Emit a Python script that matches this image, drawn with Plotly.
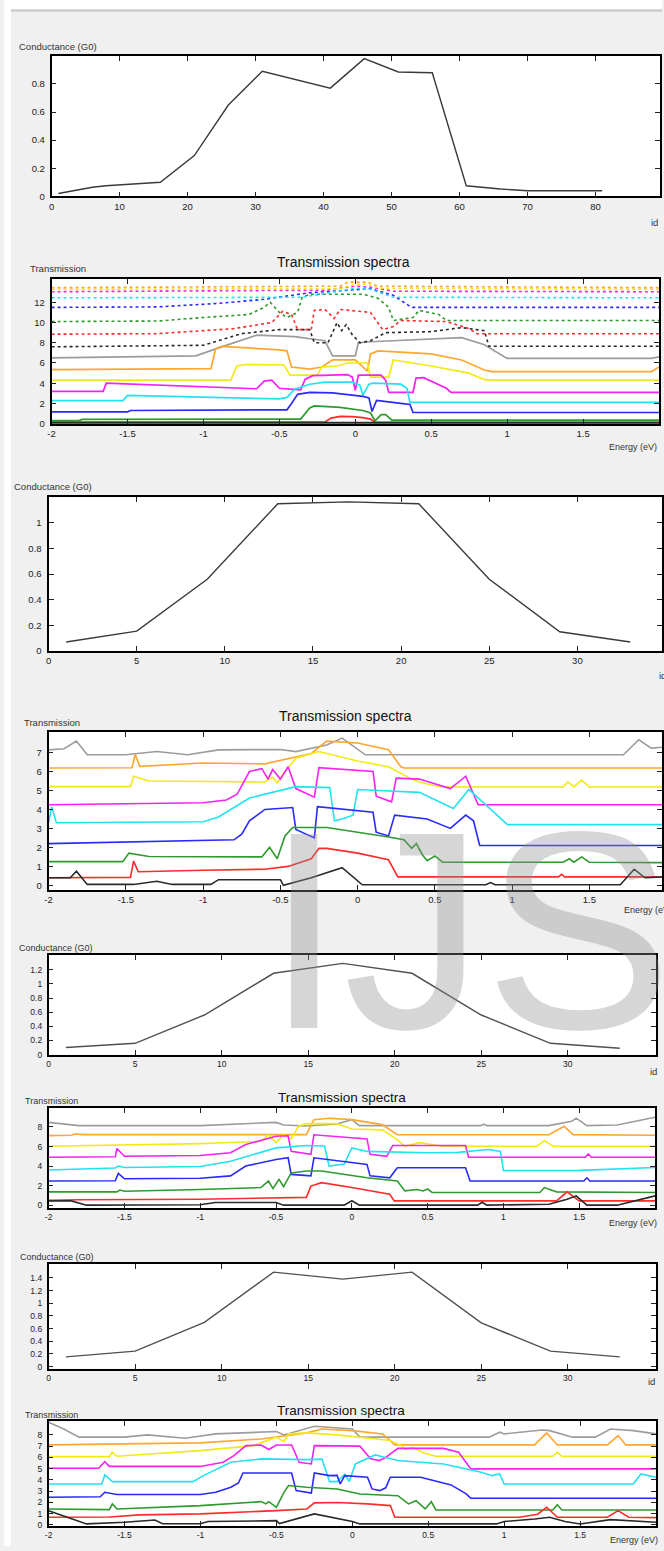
import plotly.graph_objects as go

W, H = 664, 1551
FONT = "Liberation Sans Narrow, Arial Narrow, Liberation Sans, Arial, sans-serif"

# ---------------- data ----------------
# Panel 1: conductance vs id
cond1_id = [1, 6, 8, 16, 21, 26, 31, 41, 46, 51, 56, 61, 66, 70, 81]
cond1_g = [0.02, 0.065, 0.075, 0.1, 0.29, 0.65, 0.89, 0.77, 0.98, 0.885, 0.88, 0.075, 0.052, 0.04, 0.04]

# Panel 3
cond2_id = [1, 5, 9, 13, 17, 21, 25, 29, 33]
cond2_g = [0.07, 0.155, 0.56, 1.15, 1.165, 1.15, 0.56, 0.15, 0.07]

# Panel 5
cond3_id = [1, 5, 9, 13, 17, 21, 25, 29, 33]
cond3_g = [0.1, 0.16, 0.56, 1.15, 1.29, 1.15, 0.56, 0.16, 0.09]

# Panel 7
cond4_id = [1, 5, 9, 13, 17, 21, 25, 29, 33]
cond4_g = [0.155, 0.245, 0.7, 1.49, 1.38, 1.49, 0.69, 0.245, 0.155]

# Tick labels
id_ticks_80 = [0, 10, 20, 30, 40, 50, 60, 70, 80]
id_ticks_30 = [0, 5, 10, 15, 20, 25, 30]
e_ticks = [-2, -1.5, -1, -0.5, 0, 0.5, 1, 1.5]
e_tick_text = ["-2", "-1.5", "-1", "-0.5", "0", "0.5", "1", "1.5"]

# Panel 2: transmission spectra (energy, transmission)
s1_black = [(-2, 0.05), (2, 0.05)]
s1_red = [(-2, 0.15), (-0.2, 0.15), (-0.16, 0.55), (-0.1, 0.72), (-0.02, 0.7), (0.05, 0.6), (0.1, 0.45),
          (0.13, 0.12), (2, 0.12)]
s1_green = [(-2, 0.3), (-1.82, 0.3), (-1.8, 0.42), (-0.4, 0.38), (-0.36, 0.45), (-0.3, 1.55), (-0.27, 1.75),
            (-0.1, 1.6), (0.05, 1.3), (0.1, 1.05), (0.13, 0.28), (0.17, 0.9), (0.2, 0.9), (0.24, 0.35), (2, 0.35)]
s1_blue = [(-2, 1.17), (-1.5, 1.17), (-1.48, 1.3), (-0.45, 1.37), (-0.42, 2.0), (-0.38, 2.9), (-0.3, 3.1),
           (-0.15, 3.05), (0.05, 2.7), (0.09, 2.55), (0.11, 1.2), (0.14, 2.3), (0.3, 2.0), (0.36, 1.9),
           (0.38, 1.1), (2, 1.1)]
s1_cyan = [(-2, 2.28), (-1.53, 2.28), (-1.5, 2.8), (-0.5, 2.45), (-0.45, 2.6), (-0.4, 3.4), (-0.3, 3.9),
           (-0.2, 4.1), (-0.02, 4.1), (0.03, 3.8), (0.05, 2.8), (0.09, 3.9), (0.12, 4.0), (0.3, 3.9),
           (0.34, 3.5), (0.36, 2.1), (2, 2.1)]
s1_magenta = [(-2, 3.2), (-1.66, 3.2), (-1.64, 4.0), (-0.72, 3.45), (-0.65, 3.45), (-0.6, 4.2), (-0.55, 4.3),
              (-0.5, 3.5), (-0.36, 3.35), (-0.33, 4.4), (-0.28, 4.75), (-0.05, 4.85), (-0.02, 4.6), (0.0, 3.3),
              (0.02, 4.8), (0.17, 4.8), (0.2, 4.3), (0.22, 3.1), (0.38, 3.1), (0.4, 4.5), (0.45, 4.55),
              (0.6, 3.5), (0.63, 3.1), (2, 3.1)]
s1_yellow = [(-2, 4.3), (-0.82, 4.3), (-0.78, 5.7), (-0.72, 5.85), (-0.47, 5.8), (-0.43, 4.8), (-0.25, 4.8),
             (-0.22, 5.6), (-0.12, 5.7), (-0.05, 6.0), (0.08, 6.0), (0.1, 4.6), (0.22, 4.6), (0.25, 6.3),
             (0.5, 5.7), (0.75, 5.0), (0.85, 4.35), (0.9, 4.3), (2, 4.3)]
s1_orange = [(-2, 5.35), (-0.95, 5.45), (-0.92, 7.4), (-0.88, 7.65), (-0.5, 7.3), (-0.45, 7.2), (-0.42, 5.6),
             (-0.3, 5.4), (-0.22, 5.6), (-0.15, 6.3), (0.0, 6.3), (0.08, 5.2), (0.1, 6.9), (0.15, 7.2),
             (0.5, 6.9), (0.7, 6.3), (0.85, 5.3), (0.9, 5.15), (1.95, 5.15), (2.0, 5.6)]
s1_gray = [(-2, 6.5), (-1.05, 6.7), (-0.9, 7.5), (-0.65, 8.75), (-0.4, 8.6), (-0.2, 8.2), (-0.15, 6.7),
           (0.0, 6.7), (0.02, 8.0), (0.1, 8.1), (0.7, 8.5), (0.85, 7.8), (1.0, 6.45), (1.95, 6.45), (2, 6.6)]
s1_black_dot = [(-2, 7.6), (-1.0, 7.75), (-0.75, 8.9), (-0.5, 9.3), (-0.3, 9.3), (-0.27, 8.0), (-0.18, 8.0),
                (-0.12, 10.0), (-0.09, 9.2), (-0.06, 9.8), (-0.02, 8.8), (0.03, 8.0), (0.1, 8.2), (0.2, 9.0),
                (0.5, 9.1), (0.7, 9.5), (0.85, 9.2), (0.88, 7.65), (2, 7.65)]
s1_red_dot = [(-2, 8.85), (-1.3, 8.9), (-0.8, 9.4), (-0.55, 10.0), (-0.48, 11.1), (-0.42, 10.8), (-0.38, 9.3),
              (-0.29, 9.3), (-0.27, 11.2), (-0.2, 11.3), (-0.14, 10.4), (-0.1, 11.3), (0.1, 11.0), (0.18, 9.3),
              (0.25, 9.6), (0.3, 10.2), (0.6, 10.1), (0.75, 9.4), (0.8, 8.9), (2, 8.9)]
s1_green_dot = [(-2, 10.1), (-1.3, 10.15), (-1.0, 10.5), (-0.7, 10.8), (-0.6, 11.5), (-0.56, 12.0), (-0.5, 11.0),
                (-0.45, 10.5), (-0.38, 11.0), (-0.35, 12.5), (-0.3, 12.8), (0.05, 12.8), (0.15, 12.4),
                (0.22, 11.5), (0.25, 10.2), (0.38, 10.5), (0.42, 11.2), (0.55, 10.8), (0.6, 10.2), (2, 10.2)]
s1_blue_dot = [(-2, 11.5), (-1.3, 11.55), (-0.9, 11.9), (-0.6, 12.3), (-0.3, 12.95), (0.0, 13.25), (0.1, 13.35),
               (0.25, 12.7), (0.36, 11.6), (0.38, 11.5), (2, 11.5)]
s1_cyan_dot = [(-2, 12.45), (-0.35, 12.5), (-0.15, 13.0), (0.0, 13.4), (0.1, 13.3), (0.25, 12.5), (2, 12.45)]
s1_magenta_dot = [(-2, 13.05), (-1.0, 13.1), (-0.2, 13.2), (0.0, 13.6), (0.1, 13.5), (0.25, 13.1), (2, 13.05)]
s1_yellow_dot = [(-2, 13.3), (-0.1, 13.35), (0.0, 13.8), (0.08, 13.8), (0.15, 13.4), (2, 13.3)]
s1_orange_dot = [(-2, 13.45), (-1.0, 13.5), (-0.1, 13.6), (-0.05, 14.0), (0.08, 14.0), (0.15, 13.6), (2, 13.45)]

# Panel 4
s2_black = [(-2, 0.4), (-1.86, 0.4), (-1.82, 0.75), (-1.75, 0.05), (-1.45, 0.05), (-1.3, 0.22), (-1.2, 0.05),
            (-0.95, 0.05), (-0.9, 0.3), (-0.5, 0.3), (-0.48, 0.0), (-0.3, 0.4), (-0.1, 0.93), (0.0, 0.25),
            (0.03, 0.03), (0.83, 0.03), (0.86, 0.15), (0.89, 0.03), (1.7, 0.03), (1.79, 0.85), (1.86, 0.4),
            (2, 0.45)]
s2_red = [(-2, 0.4), (-1.47, 0.42), (-1.45, 1.28), (-1.42, 0.72), (-1.0, 0.8), (-0.6, 0.85), (-0.45, 1.0),
          (-0.3, 1.4), (-0.25, 1.95), (-0.2, 1.95), (0.0, 1.7), (0.2, 1.35), (0.26, 0.45), (1.3, 0.45),
          (1.32, 0.58), (1.34, 0.45), (2, 0.45)]
s2_green = [(-2, 1.25), (-1.52, 1.25), (-1.48, 1.7), (-1.35, 1.52), (-0.62, 1.5), (-0.57, 2.0), (-0.52, 1.4),
            (-0.47, 2.6), (-0.42, 3.05), (-0.2, 3.05), (0.2, 2.55), (0.3, 2.4), (0.35, 1.95), (0.38, 2.2),
            (0.42, 1.6), (0.45, 1.3), (0.5, 1.55), (0.55, 1.22), (1.33, 1.22), (1.37, 1.4), (1.4, 1.22),
            (1.45, 1.5), (1.5, 1.22), (2, 1.2)]
s2_blue = [(-2, 2.2), (-1.3, 2.3), (-0.8, 2.4), (-0.75, 2.7), (-0.7, 3.4), (-0.6, 4.0), (-0.42, 4.1),
           (-0.4, 2.95), (-0.28, 2.5), (-0.26, 4.15), (0.1, 3.85), (0.12, 2.8), (0.2, 2.6), (0.24, 3.7),
           (0.45, 3.5), (0.6, 3.0), (0.7, 3.7), (0.75, 3.4), (0.79, 2.1), (2, 2.1)]
s2_cyan = [(-2, 3.3), (-1.98, 4.15), (-1.95, 3.3), (-1.0, 3.35), (-0.9, 3.6), (-0.7, 4.6), (-0.4, 5.2),
           (-0.18, 5.15), (-0.15, 3.4), (-0.1, 3.5), (-0.03, 3.7), (0.0, 5.05), (0.4, 4.9), (0.62, 4.05),
           (0.72, 5.05), (0.97, 3.2), (2, 3.2)]
s2_magenta = [(-2, 4.25), (-1.0, 4.35), (-0.85, 4.5), (-0.78, 4.8), (-0.7, 6.0), (-0.62, 6.15), (-0.58, 5.6),
              (-0.55, 6.1), (-0.5, 5.6), (-0.45, 6.25), (-0.4, 5.1), (-0.28, 4.65), (-0.25, 6.2), (0.1, 6.0),
              (0.12, 4.7), (0.22, 4.4), (0.25, 5.65), (0.4, 5.6), (0.6, 5.1), (0.7, 5.75), (0.78, 4.25),
              (2, 4.25)]
s2_yellow = [(-2, 5.2), (-1.47, 5.2), (-1.45, 5.75), (-1.35, 5.5), (-0.6, 5.45), (-0.55, 5.7), (-0.52, 5.4),
             (-0.48, 5.9), (-0.4, 6.7), (-0.25, 7.05), (0.0, 6.55), (0.2, 6.25), (0.35, 5.6), (0.4, 5.45),
             (0.47, 5.3), (0.55, 5.18), (1.33, 5.18), (1.36, 5.45), (1.4, 5.2), (1.45, 5.55), (1.5, 5.18),
             (2, 5.18)]
s2_orange = [(-2, 6.18), (-1.46, 6.2), (-1.44, 6.9), (-1.41, 6.27), (-1.0, 6.45), (-0.6, 6.4), (-0.3, 6.95),
             (-0.2, 7.6), (0.0, 7.5), (0.2, 7.15), (0.28, 6.25), (0.3, 6.18), (2, 6.18)]
s2_gray = [(-2, 7.14), (-1.9, 7.2), (-1.82, 7.6), (-1.75, 6.88), (-1.5, 6.88), (-1.3, 7.05), (-1.1, 6.88),
           (-0.9, 7.14), (-0.5, 7.16), (-0.4, 7.05), (-0.2, 7.4), (-0.1, 7.76), (0.05, 6.88), (1.72, 6.88),
           (1.82, 7.67), (1.9, 7.23), (2, 7.3)]

# Panel 6
s3_black = [(-2, 0.44), (-1.85, 0.44), (-1.75, 0.0), (-1.0, 0.05), (-0.9, 0.27), (-0.5, 0.27), (-0.45, 0.0),
            (-0.05, 0.0), (0.0, 0.45), (0.05, 0.0), (0.83, 0.0), (0.86, 0.3), (0.89, 0.0), (1.3, 0.1),
            (1.42, 0.6), (1.48, 0.95), (1.55, 0.0), (1.75, 0.0), (2, 0.95)]
s3_red = [(-2, 0.5), (-1.8, 0.55), (-1.0, 0.6), (-0.3, 0.8), (-0.27, 1.95), (-0.2, 2.3), (0.0, 1.8),
          (0.25, 1.12), (0.28, 0.44), (1.35, 0.44), (1.42, 1.36), (1.5, 0.44), (2, 0.44)]
s3_green = [(-2, 1.36), (-1.55, 1.36), (-1.53, 1.55), (-1.5, 1.42), (-1.0, 1.6), (-0.6, 1.8), (-0.55, 2.47),
            (-0.52, 1.7), (-0.48, 2.64), (-0.45, 1.9), (-0.4, 3.3), (-0.3, 3.5), (-0.2, 3.5), (0.1, 2.8),
            (0.3, 2.47), (0.35, 1.46), (0.43, 1.6), (0.47, 1.45), (0.5, 1.65), (0.53, 1.3), (1.24, 1.3),
            (1.27, 1.8), (1.35, 1.36), (2, 1.3)]
s3_blue = [(-2, 2.47), (-1.56, 2.5), (-1.54, 3.25), (-1.5, 2.7), (-1.0, 2.75), (-0.8, 3.0), (-0.7, 4.0),
           (-0.5, 4.68), (-0.42, 4.85), (-0.4, 3.15), (-0.27, 3.0), (-0.25, 4.85), (0.1, 4.17), (0.12, 3.0),
           (0.25, 2.8), (0.3, 3.83), (0.75, 3.83), (0.78, 2.47), (1.53, 2.47), (1.55, 2.8), (1.57, 2.47),
           (2, 2.47)]
s3_cyan = [(-2, 3.6), (-1.56, 3.8), (-1.54, 4.0), (-1.5, 3.85), (-1.0, 3.95), (-0.8, 4.5), (-0.5, 5.86),
           (-0.3, 6.1), (-0.18, 6.05), (-0.15, 4.0), (-0.05, 4.2), (0.0, 5.86), (0.1, 5.5), (0.5, 5.36),
           (0.7, 5.4), (0.9, 5.7), (0.98, 5.5), (1.0, 3.55), (1.5, 3.56), (2, 3.85)]
s3_magenta = [(-2, 4.9), (-1.56, 4.95), (-1.55, 5.8), (-1.5, 5.0), (-1.0, 5.08), (-0.8, 5.36), (-0.7, 6.2),
              (-0.5, 7.05), (-0.42, 7.1), (-0.4, 5.5), (-0.27, 5.2), (-0.25, 7.2), (0.1, 6.78), (0.12, 5.2),
              (0.23, 5.0), (0.27, 6.1), (0.75, 6.1), (0.77, 4.9), (1.54, 4.9), (1.56, 5.25), (1.58, 4.9),
              (2, 4.9)]
s3_yellow = [(-2, 6.03), (-1.0, 6.3), (-0.6, 6.54), (-0.55, 7.2), (-0.5, 6.4), (-0.45, 7.2), (-0.4, 6.8),
             (-0.35, 8.1), (-0.3, 8.34), (-0.1, 8.34), (0.0, 7.8), (0.2, 7.7), (0.3, 6.7), (0.35, 6.03),
             (0.45, 6.4), (0.5, 6.3), (0.6, 6.03), (1.22, 6.03), (1.27, 6.6), (1.33, 6.03), (2, 6.03)]
s3_orange = [(-2, 7.12), (-1.85, 7.15), (-1.82, 7.3), (-1.78, 7.22), (-0.3, 7.22), (-0.25, 8.75), (-0.15, 8.9),
             (0.0, 8.75), (0.2, 8.24), (0.3, 7.22), (1.3, 7.2), (1.4, 8.07), (1.46, 7.22), (2, 7.15)]
s3_gray = [(-2, 8.47), (-1.8, 8.14), (-1.0, 8.14), (-0.6, 8.4), (-0.5, 8.47), (-0.45, 8.2), (-0.3, 8.1),
           (-0.1, 8.3), (0.0, 8.75), (0.05, 8.14), (0.85, 8.14), (0.87, 8.3), (0.89, 8.14), (1.3, 8.14),
           (1.45, 8.58), (1.48, 8.9), (1.55, 8.14), (1.75, 8.2), (2, 9.0)]

# Panel 8
s4_black = [(-2, 1.27), (-1.85, 0.53), (-1.75, 0.09), (-1.5, 0.24), (-1.3, 0.44), (-1.25, 0.1), (-1.0, 0.1),
            (-0.95, 0.3), (-0.5, 0.38), (-0.48, 0.12), (-0.3, 0.83), (-0.25, 0.98), (0.0, 0.3), (0.05, 0.09),
            (0.95, 0.09), (1.0, 0.3), (1.2, 0.53), (1.3, 0.68), (1.4, 0.3), (1.5, 0.09), (1.7, 0.47),
            (1.8, 0.38), (2, 0.24)]
s4_red = [(-2, 0.68), (-1.6, 0.7), (-1.4, 0.89), (-1.0, 0.98), (-0.5, 1.27), (-0.3, 1.42), (-0.25, 1.96),
          (-0.1, 2.0), (0.1, 1.87), (0.25, 1.72), (0.28, 0.68), (1.1, 0.68), (1.22, 0.95), (1.28, 1.57),
          (1.35, 0.68), (1.68, 0.68), (1.75, 1.27), (1.82, 0.68), (2, 0.65)]
s4_green = [(-2, 1.42), (-1.6, 1.36), (-1.58, 1.87), (-1.55, 1.42), (-1.0, 1.72), (-0.6, 2.07), (-0.57, 1.87),
            (-0.55, 2.07), (-0.5, 1.57), (-0.45, 2.9), (-0.42, 3.5), (-0.3, 3.35), (-0.1, 3.2), (0.05, 2.75),
            (0.3, 2.6), (0.37, 1.87), (0.42, 2.15), (0.48, 1.42), (0.52, 2.07), (0.55, 1.33), (1.32, 1.33),
            (1.35, 1.8), (1.38, 1.33), (2, 1.33)]
s4_blue = [(-2, 2.46), (-1.66, 2.5), (-1.63, 2.9), (-1.55, 2.7), (-1.0, 2.7), (-0.9, 2.9), (-0.8, 3.35),
           (-0.75, 3.73), (-0.72, 4.62), (-0.4, 4.62), (-0.37, 3.05), (-0.27, 2.84), (-0.25, 4.62),
           (-0.15, 4.38), (-0.1, 4.4), (-0.08, 3.64), (-0.05, 4.38), (0.1, 4.24), (0.13, 3.2), (0.18, 3.05),
           (0.22, 3.3), (0.25, 4.24), (0.45, 4.24), (0.65, 3.56), (0.75, 2.76), (0.78, 2.37), (2, 2.37)]
s4_cyan = [(-2, 3.64), (-1.65, 3.64), (-1.63, 4.44), (-1.58, 3.85), (-1.05, 3.85), (-0.98, 4.38), (-0.8, 5.57),
           (-0.6, 5.87), (-0.3, 5.8), (-0.2, 5.85), (-0.15, 3.85), (-0.1, 3.85), (-0.05, 4.5), (-0.02, 3.85),
           (0.02, 5.42), (0.15, 6.22), (0.22, 6.0), (0.3, 5.72), (0.6, 5.42), (0.85, 4.68), (0.92, 4.38),
           (0.97, 4.53), (1.0, 3.64), (1.85, 3.64), (1.9, 4.53), (2, 4.24)]
s4_magenta = [(-2, 5.04), (-1.67, 5.04), (-1.63, 5.63), (-1.6, 5.2), (-1.0, 5.2), (-0.85, 5.57), (-0.78, 6.16),
              (-0.7, 7.05), (-0.6, 7.1), (-0.55, 6.7), (-0.5, 7.1), (-0.4, 7.1), (-0.35, 5.57), (-0.27, 5.42),
              (-0.25, 7.05), (0.05, 7.0), (0.12, 5.87), (0.18, 5.72), (0.22, 6.0), (0.3, 6.8), (0.6, 6.8),
              (0.7, 6.46), (0.78, 4.98), (2, 4.98)]
s4_yellow = [(-2, 6.07), (-1.6, 6.07), (-1.58, 6.46), (-1.55, 6.1), (-1.0, 6.6), (-0.75, 6.9), (-0.65, 7.05),
             (-0.5, 7.8), (-0.45, 7.4), (-0.42, 8.09), (-0.3, 8.18), (-0.1, 8.0), (0.1, 7.7), (0.25, 7.5),
             (0.32, 7.05), (0.35, 6.7), (0.4, 6.9), (0.47, 6.4), (0.55, 6.1), (1.32, 6.1), (1.35, 6.46),
             (1.38, 6.1), (2, 6.1)]
s4_orange = [(-2, 7.11), (-1.0, 7.29), (-0.6, 7.64), (-0.3, 8.18), (-0.2, 8.53), (0.0, 8.38), (0.2, 8.09),
             (0.28, 7.11), (1.2, 7.11), (1.28, 8.18), (1.35, 7.11), (1.68, 7.11), (1.75, 7.94), (1.8, 7.11),
             (2, 7.11)]
s4_gray = [(-2, 9.13), (-1.9, 8.53), (-1.8, 7.8), (-1.5, 7.8), (-1.35, 8.0), (-1.1, 7.7), (-0.9, 8.09),
           (-0.5, 8.3), (-0.45, 8.0), (-0.3, 8.53), (-0.25, 8.77), (0.0, 8.53), (0.05, 7.8), (0.9, 7.8),
           (0.97, 8.24), (1.0, 8.09), (1.25, 8.44), (1.3, 8.38), (1.45, 7.8), (1.6, 7.8), (1.7, 8.53),
           (1.85, 8.38), (2, 8.09)]

# ---------------- styling ----------------
K, R, G, B = "#2a2a2a", "#ff2a2a", "#2e9a2e", "#2a2aff"
C, M, Y, O, GR = "#22e2f2", "#f522f0", "#f2ea14", "#ffa630", "#9c9c9c"


def fx(p):
    return p / W


def fy(p):
    return 1 - p / H


fig = go.Figure()
layout = {}


def setup_panel(n, box, xr, yr, xt, xtt, yt, lw=1.5, fs=9.5):
    l, r, t, b = box
    sfx = "" if n == 1 else str(n)
    common = dict(ticks="inside", ticklen=5, tickwidth=1, tickcolor="#222", showline=True,
                  linecolor="black", linewidth=lw, mirror="ticks", showgrid=False, zeroline=False,
                  tickfont=dict(family=FONT, size=fs, color="#222"), fixedrange=True)
    layout["xaxis" + sfx] = dict(domain=[fx(l), min(fx(r), 1.0)], range=xr, anchor="y" + sfx,
                                 tickvals=xt, ticktext=xtt, **common)
    layout["yaxis" + sfx] = dict(domain=[fy(b), fy(t)], range=yr, anchor="x" + sfx,
                                 tickvals=yt, ticklabelstandoff=3, **common)


def add_line(n, xs, ys, color, width=1.6, dash="solid"):
    sfx = "" if n == 1 else str(n)
    fig.add_trace(go.Scatter(x=xs, y=ys, mode="lines", line=dict(color=color, width=width, dash=dash),
                             xaxis="x" + sfx, yaxis="y" + sfx, showlegend=False, hoverinfo="skip"))


def add_curve(n, pts, color, width=1.6, dash="solid"):
    xs = [p[0] for p in pts]
    ys = [p[1] for p in pts]
    add_line(n, xs, ys, color, width, dash)


# panel boxes (left, right, top, bottom) in pixels
setup_panel(1, (48, 662, 56, 197), [0, 89.5], [0, 1.0], id_ticks_80, [str(v) for v in id_ticks_80],
            [0, 0.2, 0.4, 0.6, 0.8])
setup_panel(2, (48, 661, 280, 425), [-2, 2], [0, 14.3], e_ticks, e_tick_text, [0, 2, 4, 6, 8, 10, 12])
setup_panel(3, (45, 664, 499, 653), [0, 34.8], [0, 1.2], id_ticks_30, [str(v) for v in id_ticks_30],
            [0, 0.2, 0.4, 0.6, 0.8, 1], lw=2.2)
setup_panel(4, (45, 664, 734, 893), [-2, 1.97], [-0.25, 8.1], e_ticks, e_tick_text,
            [0, 1, 2, 3, 4, 5, 6, 7], lw=1.8)
setup_panel(5, (45, 658, 958, 1058), [0, 35.1], [0, 1.41], id_ticks_30, [str(v) for v in id_ticks_30],
            [0, 0.2, 0.4, 0.6, 0.8, 1, 1.2], fs=8.5)
setup_panel(6, (45, 657, 1112, 1212), [-2, 2], [-0.3, 9.9], e_ticks, e_tick_text, [0, 2, 4, 6, 8], fs=8.5)
setup_panel(7, (45, 658, 1268, 1373), [0, 35.1], [-0.03, 1.62], id_ticks_30, [str(v) for v in id_ticks_30],
            [0, 0.2, 0.4, 0.6, 0.8, 1, 1.2, 1.4], fs=8.5)
setup_panel(8, (45, 658, 1426, 1531), [-2, 2], [-0.1, 9.2], e_ticks, e_tick_text,
            [0, 1, 2, 3, 4, 5, 6, 7, 8], fs=8.5)

# conductance lines
add_line(1, cond1_id, cond1_g, "#3a3a3a", 1.4)
add_line(3, cond2_id, cond2_g, "#3a3a3a", 1.4)
add_line(5, cond3_id, cond3_g, "#505050", 1.4)
add_line(7, cond4_id, cond4_g, "#505050", 1.4)

# panel 2 spectra
for pts, col in [(s1_gray, GR), (s1_orange, O), (s1_yellow, Y), (s1_magenta, M), (s1_cyan, C), (s1_blue, B),
                 (s1_green, G), (s1_red, R)]:
    add_curve(2, pts, col, 1.7)
add_curve(2, s1_black, K, 2.6)
for pts, col in [(s1_black_dot, K), (s1_red_dot, R), (s1_green_dot, G), (s1_blue_dot, B), (s1_cyan_dot, C),
                 (s1_magenta_dot, M), (s1_yellow_dot, Y), (s1_orange_dot, O)]:
    add_curve(2, pts, col, 1.6, "dot")

# panels 4, 6, 8
for n, group in [(4, [s2_gray, s2_orange, s2_yellow, s2_magenta, s2_cyan, s2_blue, s2_green, s2_red, s2_black]),
                 (6, [s3_gray, s3_orange, s3_yellow, s3_magenta, s3_cyan, s3_blue, s3_green, s3_red, s3_black]),
                 (8, [s4_gray, s4_orange, s4_yellow, s4_magenta, s4_cyan, s4_blue, s4_green, s4_red, s4_black])]:
    for pts, col in zip(group, [GR, O, Y, M, C, B, G, R, K]):
        add_curve(n, pts, col, 1.6)

# ---------------- annotations ----------------
ann = []


def text(s, x, y, size=9.5, xanchor="left", color="#333", family=FONT):
    ann.append(dict(text=s, x=fx(x), y=fy(y), xref="paper", yref="paper", xanchor=xanchor, yanchor="middle",
                    showarrow=False, font=dict(family=family, size=size, color=color)))


text("Conductance (G0)", 13, 47)
text("id", 651, 223)
text("Transmission spectra", 343, 263, 14, "center", "#111")
text("Transmission", 24, 269)
text("Energy (eV)", 608, 448, 9)
text("Conductance (G0)", 8, 488)
text("id", 659, 678)
text("Transmission spectra", 345, 718, 14, "center", "#111")
text("Transmission", 18, 725)
text("Energy (eV)", 624, 913, 9)
text("Conductance (G0)", 13, 951, 9)
text("id", 650, 1075)
text("Transmission spectra", 341, 1101, 13.5, "center", "#111")
text("Transmission", 19, 1105, 9)
text("Energy (eV)", 608, 1227, 9)
text("Conductance (G0)", 14, 1261, 9)
text("id", 648, 1386)
text("Transmission spectra", 340, 1415, 13.5, "center", "#111")
text("Transmission", 19, 1420, 9)
text("Energy (eV)", 610, 1545, 9)

# watermark
ann.append(dict(text="IJS", x=fx(261), y=fy(934), xref="paper", yref="paper", xanchor="left", yanchor="middle",
                showarrow=False, font=dict(family="Liberation Sans, Arial, sans-serif", size=282,
                                           color="rgba(140,140,140,0.36)")))

shapes = [
    dict(type="rect", xref="paper", yref="paper", x0=0, x1=1, y0=fy(9), y1=1, fillcolor="white",
         line=dict(width=0), layer="above"),
    dict(type="rect", xref="paper", yref="paper", x0=0, x1=fx(7), y0=0, y1=1, fillcolor="white",
         line=dict(width=0), layer="above"),
    dict(type="line", xref="paper", yref="paper", x0=fx(7), x1=1, y0=fy(10.5), y1=fy(10.5),
         line=dict(color="#cfcfcf", width=2.5), layer="above"),
]

fig.update_layout(width=W, height=H, margin=dict(l=0, r=0, t=0, b=0), paper_bgcolor="#f0f0f0",
                  plot_bgcolor="white", showlegend=False, annotations=ann, shapes=shapes, **layout)

fig.write_html("out.html", include_plotlyjs=True, config={"displayModeBar": False},
               post_script="document.body.style.margin='0';document.body.style.padding='0';"
                           "document.body.style.overflow='hidden';")
